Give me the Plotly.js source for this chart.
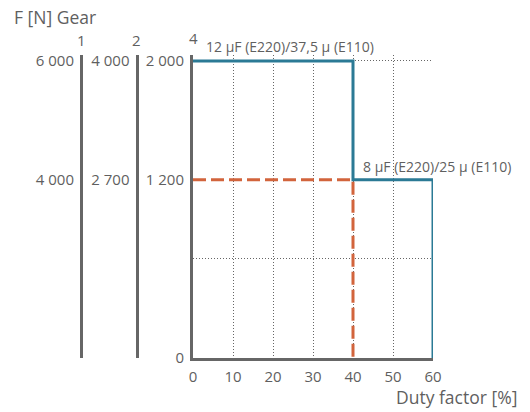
<!DOCTYPE html>
<html>
<head>
<meta charset="utf-8">
<script src="https://cdn.plot.ly/plotly-3.0.1.min.js"></script>
<style>html,body{margin:0;padding:0;background:#fff;}#chart{width:530px;height:412px;}</style>
</head>
<body>
<div id="chart"></div>
<script>
// Duty factor [%] and force [N] (gear 4 scale)
const limitX = [0, 40, 40, 60, 60];
const limitY = [2000, 2000, 1200, 1200, 0];
const dashX = [0, 40, 40];
const dashY = [1200, 1200, 0];

const xTicks = [0, 10, 20, 30, 40, 50, 60];
const gridY = [667, 2000];

const gear4Vals = [0, 1200, 2000];
const gear4Text = ['0', '1 200', '2 000'];
const gear2Vals = [1200, 2000];
const gear2Text = ['2 700', '4 000'];
const gear1Vals = [1200, 2000];
const gear1Text = ['4 000', '6 000'];

const gearNames = ['1', '2', '4'];
const labelTexts = ['12 μF (E220)/37,5 μ (E110)', '8 μF (E220)/25 μ (E110)'];

const txt = '#5f5f5f';
const axisCol = '#666666';
const fam = 'Open Sans, sans-serif';
const font = {family: fam, size: 14, color: txt};
const tickFont = {family: fam, size: 15, color: txt};
const titleFont = {family: fam, size: 17.5, color: txt};

const L = 70, W = 363;
const px = v => (v - L) / W;
const py = v => (358 - v) / 303;

const gearPos = [px(81), px(136.5), px(193)];
const yr = [0, 2040];
const labelPos = [[px(204), py(47)], [px(361), py(166)]];

const traces = [
  {x: dashX, y: dashY, mode: 'lines', line: {color: '#d2643c', width: 3, dash: '13px,5px'}, hoverinfo: 'skip'},
  {x: limitX, y: limitY, mode: 'lines', line: {color: '#2b7a95', width: 3}, hoverinfo: 'skip'},
  {x: [null], y: [null], yaxis: 'y2', mode: 'lines', hoverinfo: 'skip'},
  {x: [null], y: [null], yaxis: 'y3', mode: 'lines', hoverinfo: 'skip'},
  {x: [null], y: [null], yaxis: 'y4', mode: 'lines', hoverinfo: 'skip'}
];

const gearAxis = (vals, text, pos) => ({
  overlaying: 'y', anchor: 'free', position: pos, side: 'left', range: yr,
  tickvals: vals, ticktext: text, showgrid: false, zeroline: false,
  showline: true, linewidth: 3, linecolor: axisCol, ticks: '', ticklabelstandoff: 3,
  tickfont: tickFont, fixedrange: true
});

const annotations = [
  {xref: 'paper', yref: 'paper', x: px(12), y: py(17), xanchor: 'left', yanchor: 'middle', text: 'F [N] Gear', showarrow: false, font: titleFont},
  {xref: 'paper', yref: 'paper', x: px(519), y: py(397), xanchor: 'right', yanchor: 'middle', text: 'Duty factor [%]', showarrow: false, font: titleFont}
];
gearNames.forEach((g, i) => annotations.push({
  xref: 'paper', yref: 'paper', x: gearPos[i], y: py(i === 2 ? 38 : 40), xanchor: 'center', yanchor: 'middle',
  text: g, showarrow: false, font: tickFont
}));
labelTexts.forEach((t, i) => annotations.push({
  xref: 'paper', yref: 'paper', x: labelPos[i][0], y: labelPos[i][1], xanchor: 'left', yanchor: 'middle',
  text: t, showarrow: false, font: font
}));

const layout = {
  width: 530, height: 412,
  margin: {l: L, r: 530 - L - W, t: 55, b: 54},
  paper_bgcolor: '#fff', plot_bgcolor: '#fff',
  showlegend: false,
  font: font,
  xaxis: {
    domain: [px(193), 1], range: [0, 60], tickvals: xTicks, showgrid: true,
    gridcolor: '#666', griddash: '1px,2px', gridwidth: 1, zeroline: false,
    showline: true, linewidth: 3, linecolor: axisCol, ticks: '', ticklabelstandoff: 3,
    tickfont: tickFont, fixedrange: true
  },
  yaxis: {
    range: yr, tickvals: gear4Vals, ticktext: gear4Text, showgrid: false, zeroline: false,
    showline: true, linewidth: 3, linecolor: axisCol, ticks: '', ticklabelstandoff: 3,
    tickfont: tickFont, fixedrange: true
  },
  yaxis2: gearAxis(gear2Vals, gear2Text, gearPos[1]),
  yaxis3: gearAxis(gear1Vals, gear1Text, gearPos[0]),
  yaxis4: {
    overlaying: 'y', range: yr, tickvals: gridY, showticklabels: false, showgrid: true,
    gridcolor: '#666', griddash: '1px,2px', gridwidth: 1, zeroline: false, showline: false, ticks: '', fixedrange: true
  },
  annotations: annotations
};

Plotly.newPlot('chart', traces, layout, {displayModeBar: false, staticPlot: true});
</script>
</body>
</html>
